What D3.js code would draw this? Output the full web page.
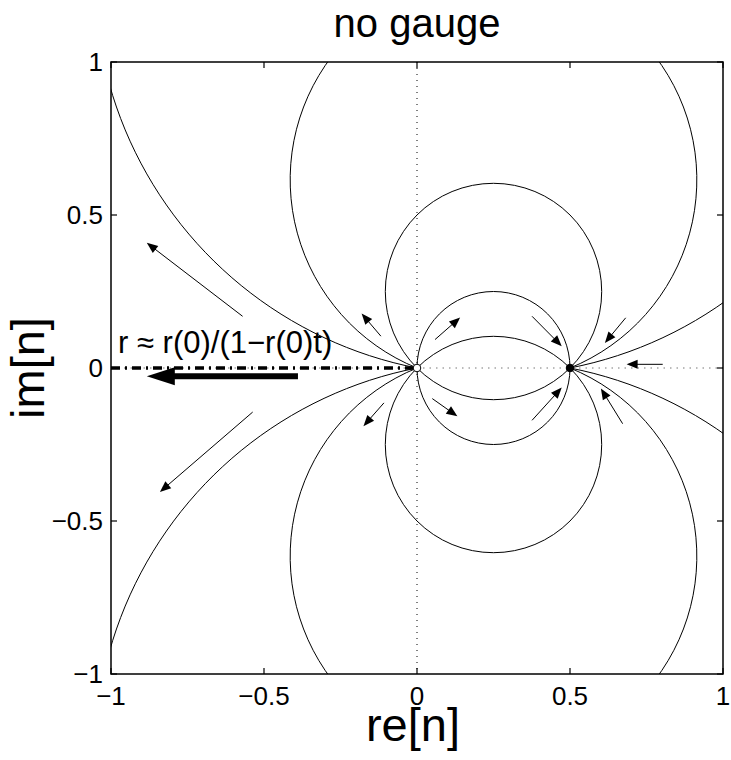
<!DOCTYPE html>
<html>
<head>
<meta charset="utf-8">
<script src="https://cdn.jsdelivr.net/npm/d3@7"></script>
<style>
  html, body { margin: 0; padding: 0; background: #fff; }
  svg { display: block; }
  text { font-family: "Liberation Sans", Arial, Helvetica, sans-serif; fill: #000; }
</style>
</head>
<body>
<svg id="chart" width="731" height="760"></svg>
<script>
// ---------- data ----------
const xTicks = [-1, -0.5, 0, 0.5, 1];
const yTicks = [-1, -0.5, 0, 0.5, 1];
const xTickLabels = ["\u22121", "\u22120.5", "0", "0.5", "1"];
const yTickLabels = ["\u22121", "\u22120.5", "0", "0.5", "1"];

// fixed points
const fixedX = [0, 0.5];
const fixedY = [0, 0];
const fixedOpen = [true, false];

// full trajectory circles (through both fixed points)
const fullCenterX = [0.25, 0.25, 0.25];
const fullCenterY = [0, 0.25, -0.25];
const fullRadius  = [0.25, 0.3536, 0.3536];

// outer trajectories: only the major arc from 0 to 0.5 (side = +1 above, -1 below)
const arcRadius = [0.6645, 0.6645, 1.304, 1.304];
const arcSide   = [1, -1, 1, -1];

// small flow arrows: tail (x0,y0) -> tip (x1,y1)
const arrowX0 = [-0.570, -0.537, -0.118, 0.059, -0.108, 0.050, 0.376, 0.376, 0.682, 0.803, 0.672];
const arrowY0 = [ 0.169, -0.144,  0.104, 0.093, -0.114, -0.100, 0.169, -0.171, 0.164, 0.012, -0.182];
const arrowX1 = [-0.883, -0.840, -0.181, 0.141, -0.175, 0.132, 0.473, 0.473, 0.614, 0.685, 0.601];
const arrowY1 = [ 0.409, -0.405,  0.178, 0.165, -0.190, -0.158, 0.071, -0.064, 0.082, 0.012, -0.067];

// big arrow along the negative real axis
const bigArrowX = [-0.389, -0.883];
const bigArrowY = [-0.027, -0.027];

const titleText = "no gauge";
const xLabelText = "re[n]";
const yLabelText = "im[n]";
const noteText = "r \u2248 r(0)/(1\u2212r(0)t)";

// ---------- layout ----------
const svg = d3.select("#chart");
const L = 111, R = 723, T = 62, B = 674;
const x = d3.scaleLinear().domain([-1, 1]).range([L, R]);
const y = d3.scaleLinear().domain([-1, 1]).range([B, T]);
const px = v => x(v) - x(0); // length in pixels

svg.append("defs").append("clipPath").attr("id", "plotclip")
  .append("rect").attr("x", L).attr("y", T).attr("width", R - L).attr("height", B - T);

const plot = svg.append("g").attr("clip-path", "url(#plotclip)");

// dotted axes lines
plot.append("line")
  .attr("x1", x(0)).attr("x2", x(0)).attr("y1", y(1)).attr("y2", y(-1))
  .attr("stroke", "#000").attr("stroke-width", 1).attr("stroke-dasharray", "1,5");
plot.append("line")
  .attr("x1", x(-1)).attr("x2", x(1)).attr("y1", y(0)).attr("y2", y(0))
  .attr("stroke", "#777").attr("stroke-width", 1).attr("stroke-dasharray", "1.5,5");

// full circles
plot.selectAll("circle.traj")
  .data(d3.range(fullCenterY.length))
  .join("circle")
  .attr("class", "traj")
  .attr("cx", i => x(fullCenterX[i]))
  .attr("cy", i => y(fullCenterY[i]))
  .attr("r", i => px(fullRadius[i]))
  .attr("fill", "none")
  .attr("stroke", "#000")
  .attr("stroke-width", 1);

// major arcs
plot.selectAll("path.arc")
  .data(d3.range(arcRadius.length))
  .join("path")
  .attr("class", "arc")
  .attr("d", i => {
    const r = px(arcRadius[i]);
    const sweep = arcSide[i] > 0 ? 1 : 0;
    return `M${x(fixedX[0])},${y(fixedY[0])}A${r},${r} 0 1 ${sweep} ${x(fixedX[1])},${y(fixedY[1])}`;
  })
  .attr("fill", "none")
  .attr("stroke", "#000")
  .attr("stroke-width", 1);

// thick dash-dot line on negative real axis
plot.append("line")
  .attr("x1", x(-1)).attr("x2", x(0)).attr("y1", y(0)).attr("y2", y(0))
  .attr("stroke", "#000").attr("stroke-width", 3.5)
  .attr("stroke-dasharray", "9,5,2,5");

// arrow helper
function arrow(g, x0, y0, x1, y1, headLen, headHalf, width) {
  const px0 = x(x0), py0 = y(y0), px1 = x(x1), py1 = y(y1);
  const dx = px1 - px0, dy = py1 - py0;
  const len = Math.hypot(dx, dy);
  const ux = dx / len, uy = dy / len;
  const bx = px1 - ux * headLen, by = py1 - uy * headLen;
  g.append("line")
    .attr("x1", px0).attr("y1", py0).attr("x2", bx + ux * 1).attr("y2", by + uy * 1)
    .attr("stroke", "#000").attr("stroke-width", width);
  g.append("path")
    .attr("d", `M${px1},${py1}L${bx - uy * headHalf},${by + ux * headHalf}L${bx + uy * headHalf},${by - ux * headHalf}Z`)
    .attr("fill", "#000");
}

for (let i = 0; i < arrowX0.length; i++) {
  arrow(plot, arrowX0[i], arrowY0[i], arrowX1[i], arrowY1[i], 11, 4.5, 1);
}
arrow(plot, bigArrowX[0], bigArrowY[0], bigArrowX[1], bigArrowY[1], 28, 9, 6);

// fixed points
plot.selectAll("circle.fixed")
  .data(d3.range(fixedX.length))
  .join("circle")
  .attr("class", "fixed")
  .attr("cx", i => x(fixedX[i]))
  .attr("cy", i => y(fixedY[i]))
  .attr("r", 3.8)
  .attr("fill", i => fixedOpen[i] ? "#fff" : "#000")
  .attr("stroke", "#000")
  .attr("stroke-width", 1);

// note
svg.append("text")
  .attr("x", x(-0.977)).attr("y", y(0.048))
  .attr("font-size", 31)
  .text(noteText);

// frame
svg.append("rect")
  .attr("x", L).attr("y", T).attr("width", R - L).attr("height", B - T)
  .attr("fill", "none").attr("stroke", "#000").attr("stroke-width", 1.5);

// ticks (inward, all four sides)
const tk = 6;
const tickG = svg.append("g").attr("stroke", "#000").attr("stroke-width", 1.2);
xTicks.forEach(v => {
  tickG.append("line").attr("x1", x(v)).attr("x2", x(v)).attr("y1", B).attr("y2", B - tk);
  tickG.append("line").attr("x1", x(v)).attr("x2", x(v)).attr("y1", T).attr("y2", T + tk);
});
yTicks.forEach(v => {
  tickG.append("line").attr("x1", L).attr("x2", L + tk).attr("y1", y(v)).attr("y2", y(v));
  tickG.append("line").attr("x1", R).attr("x2", R - tk).attr("y1", y(v)).attr("y2", y(v));
});

// tick labels
svg.selectAll("text.xt")
  .data(xTicks)
  .join("text")
  .attr("class", "xt")
  .attr("x", d => x(d))
  .attr("y", B + 31)
  .attr("text-anchor", "middle")
  .attr("font-size", 26)
  .text((d, i) => xTickLabels[i]);

svg.selectAll("text.yt")
  .data(yTicks)
  .join("text")
  .attr("class", "yt")
  .attr("x", L - 8)
  .attr("y", d => y(d) + 9)
  .attr("text-anchor", "end")
  .attr("font-size", 26)
  .text((d, i) => yTickLabels[i]);

// title and axis labels
svg.append("text")
  .attr("x", x(0)).attr("y", 37)
  .attr("text-anchor", "middle")
  .attr("font-size", 40)
  .text(titleText);

svg.append("text")
  .attr("x", x(0) - 4).attr("y", 741)
  .attr("text-anchor", "middle")
  .attr("font-size", 47)
  .text(xLabelText);

svg.append("text")
  .attr("transform", `translate(44,${y(0)}) rotate(-90)`)
  .attr("text-anchor", "middle")
  .attr("font-size", 47)
  .text(yLabelText);
</script>
</body>
</html>
